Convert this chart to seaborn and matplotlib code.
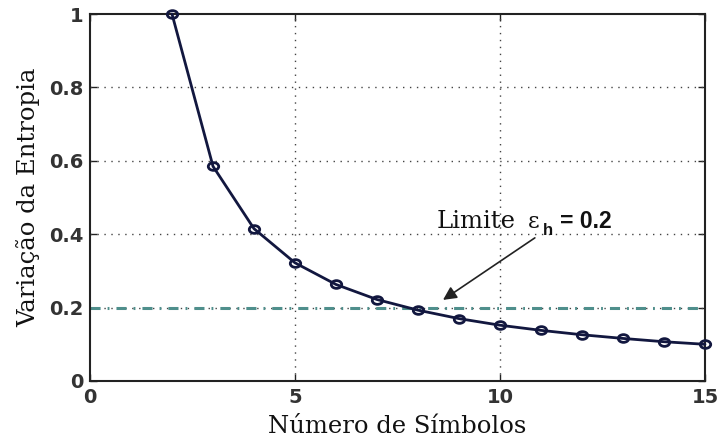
import matplotlib
matplotlib.use("Agg")
import matplotlib.pyplot as plt
from matplotlib.path import Path
from matplotlib.transforms import Affine2D
import seaborn as sns
import pandas as pd

# Entropy variation per number of symbols
simbolos = [2, 3, 4, 5, 6, 7, 8, 9, 10, 11, 12, 13, 14, 15]
variacao = [1.0, 0.585, 0.415, 0.322, 0.263, 0.222, 0.193, 0.170,
            0.152, 0.138, 0.126, 0.116, 0.107, 0.100]
limite = 0.2
x_ticks = [0, 5, 10, 15]
y_ticks = [0, 0.2, 0.4, 0.6, 0.8, 1]
y_tick_labels = ["0", "0.2", "0.4", "0.6", "0.8", "1"]

sns.set_theme(style="white")
plt.rcParams["font.family"] = ["DejaVu Sans"]

df = pd.DataFrame({"simbolos": simbolos, "variacao": variacao})

# slightly flattened open-circle marker
oval = Path.unit_circle().transformed(Affine2D().scale(1.0, 0.74))

fig = plt.figure(figsize=(7.2, 4.45), dpi=100)
ax = fig.add_axes([90 / 720, 1 - 381 / 445, 615 / 720, 367 / 445])

ax.axhline(limite, color="#4f8f8c", lw=2.2,
           ls=(0, (3.3, 2.3, 0.6, 2.3)), zorder=2)

sns.lineplot(data=df, x="simbolos", y="variacao", ax=ax, color="#12173f",
             lw=2.0, marker=oval, markersize=7.5, markerfacecolor="none",
             markeredgecolor="#12173f", markeredgewidth=2.0, zorder=3,
             clip_on=False)

ax.set_xlim(0, 15)
ax.set_ylim(0, 1)
ax.set_xticks(x_ticks)
ax.set_yticks(y_ticks)
ax.set_yticklabels(y_tick_labels)
for lab in ax.get_xticklabels() + ax.get_yticklabels():
    lab.set_fontweight("bold")
    lab.set_fontsize(14)
    lab.set_color("#333333")

ax.tick_params(direction="in", length=5, width=1, color="#222222",
               top=True, right=True, bottom=True, left=True, pad=5)

# dotted grid only at inner ticks
for xv in x_ticks[1:-1]:
    ax.axvline(xv, color="#444444", lw=1, ls=(0, (1, 4)), zorder=1)
for yv in y_ticks[1:-1]:
    ax.axhline(yv, color="#444444", lw=1, ls=(0, (1, 4)), zorder=1)
ax.grid(False)

for s in ax.spines.values():
    s.set_color("#222222")
    s.set_linewidth(1.5)

ax.set_xlabel("Número de Símbolos", family="DejaVu Serif", fontsize=17.5,
              color="#111111", labelpad=6)
ax.set_ylabel("Variação da Entropia", family="DejaVu Serif", fontsize=17.5,
              color="#111111", labelpad=6)

ax.annotate("", xy=(8.61, 0.221), xytext=(10.85, 0.39),
            arrowprops=dict(arrowstyle="-|>", color="#222222", lw=1.2,
                            mutation_scale=20, shrinkA=0, shrinkB=0))
ax.text(8.46, 0.417, "Limite", family="DejaVu Serif", fontsize=17.5,
        color="#111111", va="baseline")
ax.text(10.68, 0.417, "ε", family="DejaVu Serif", fontsize=16,
        color="#111111", va="baseline")
ax.text(11.05, 0.398, "h", family="Liberation Sans", fontsize=12,
        fontweight="bold", color="#111111", va="baseline")
ax.text(11.46, 0.417, "= 0.2", family="Liberation Sans", fontsize=16.5,
        fontweight="bold", color="#111111", va="baseline")

fig.savefig("out.png", dpi=100)
